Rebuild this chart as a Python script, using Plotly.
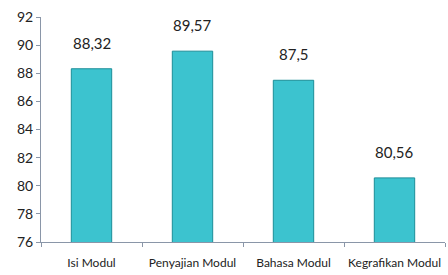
import plotly.graph_objects as go

categories = ["Isi Modul", "Penyajian Modul", "Bahasa Modul", "Kegrafikan Modul"]
values = [88.32, 89.57, 87.5, 80.56]
value_labels = [str(v).replace(".", ",") for v in values]
y_ticks = [76, 78, 80, 82, 84, 86, 88, 90, 92]

fig = go.Figure()
fig.add_trace(go.Bar(
    x=categories, y=values, width=0.4,
    marker=dict(color="#3CC3CF", line=dict(color="#1C8E98", width=1)),
))
for c, v, t in zip(categories, values, value_labels):
    fig.add_annotation(x=c, y=v, text=t, showarrow=False, yanchor="bottom",
                       yshift=15, font=dict(size=15, color="#222"))

fig.update_layout(
    width=448, height=275, margin=dict(l=41, r=3, t=17, b=33),
    plot_bgcolor="white", paper_bgcolor="white", showlegend=False,
    font=dict(family="Lato, sans-serif", size=13, color="#222"),
    bargap=0.6,
)
fig.update_xaxes(showline=True, linecolor="#8A96A8", linewidth=1, tickangle=0,
                 ticks="outside", tickson="boundaries", ticklen=4, tickcolor="#8A96A8",
                 ticklabelstandoff=10, tickfont=dict(size=12))
fig.update_yaxes(range=[76, 92], tickvals=y_ticks, showgrid=False, zeroline=False,
                 showline=True, linecolor="#8A96A8", linewidth=1,
                 ticks="outside", ticklen=4, tickcolor="#8A96A8",
                 tickfont=dict(size=14))
fig.write_html("out.html", config={"displayModeBar": False},
               post_script="document.body.style.margin='0';")
